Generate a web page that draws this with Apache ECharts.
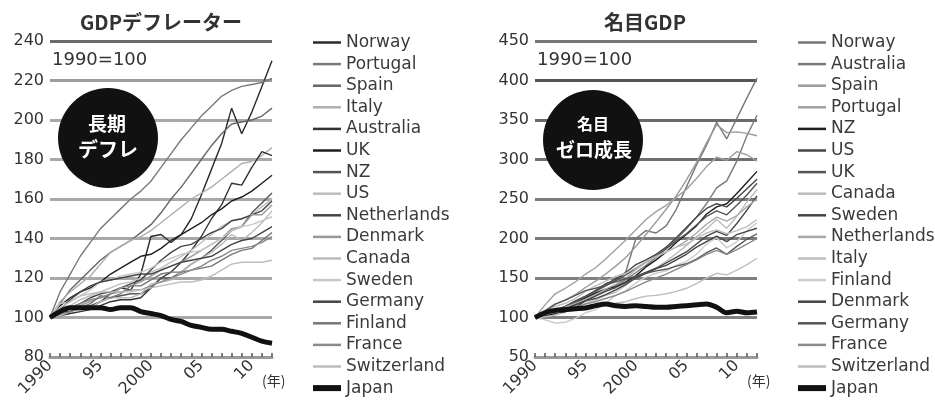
<!DOCTYPE html>
<html>
<head>
<meta charset="utf-8">
<script src="https://cdn.jsdelivr.net/npm/echarts@6/dist/echarts.min.js"></script>
<style>
  html, body { margin: 0; padding: 0; background: #fff; }
  #chart { width: 935px; height: 403px; }
</style>
</head>
<body>
<div id="chart"></div>
<script>
// Years on the x axis (1990 = 100 for every series)
const years = ['1990','1991','1992','1993','1994','1995','1996','1997','1998','1999','2000',
  '2001','2002','2003','2004','2005','2006','2007','2008','2009','2010','2011','2012'];
// Short tick labels shown every five years
const yearTickLabels = { '1990': '1990', '1995': '95', '2000': '2000', '2005': '05', '2010': '10' };

// ---- GDP deflator (left panel) ----
const deflatorCountries = ['Norway','Portugal','Spain','Italy','Australia','UK','NZ','US',
  'Netherlands','Denmark','Canada','Sweden','Germany','Finland','France','Switzerland','Japan'];
const deflatorColors = ['#2a2a2a','#7a7a7a','#666666','#b0b0b0','#333333','#1e1e1e','#555555','#bdbdbd',
  '#444444','#999999','#bbbbbb','#c8c8c8','#444444','#777777','#8a8a8a','#bdbdbd','#111111'];
const deflNorway      = [100,103,103,105,105,108,112,115,114,122,141,142,138,142,150,162,175,188,206,193,204,217,230];
const deflPortugal    = [100,113,122,131,138,145,150,155,160,164,169,176,183,190,196,202,207,212,215,217,218,219,221];
const deflSpain       = [100,107,114,119,124,129,133,136,139,143,147,153,160,166,173,180,187,193,198,199,200,202,206];
const deflItaly       = [100,108,113,117,121,127,133,136,139,141,144,148,152,156,160,163,166,170,174,178,179,182,186];
const deflAustralia   = [100,101,102,103,104,106,108,109,109,110,115,120,123,128,134,141,150,157,168,167,176,184,182];
const deflUK          = [100,106,110,113,115,118,122,125,128,131,132,135,139,142,145,148,152,155,159,161,164,168,172];
const deflNZ          = [100,101,103,105,106,108,110,111,112,112,115,120,120,123,127,130,134,139,144,146,153,158,163];
const deflUS          = [100,104,106,109,111,113,115,117,118,120,123,125,128,131,134,138,142,146,149,150,152,156,160];
const deflNetherlands = [100,103,105,107,110,112,113,115,117,119,124,129,133,136,137,140,143,145,149,150,152,154,159];
const deflDenmark     = [100,103,105,106,108,110,112,115,116,118,121,124,126,128,131,134,137,140,145,146,152,152,157];
const deflCanada      = [100,101,103,104,105,108,110,110,110,112,117,118,119,123,127,130,133,137,142,139,143,148,154];
const deflSweden      = [100,107,108,111,114,118,119,121,122,123,125,128,130,132,133,134,137,140,144,146,147,149,151];
const deflGermany     = [100,104,109,113,116,118,119,120,121,122,122,124,126,128,129,130,131,134,137,139,140,143,146];
const deflFinland     = [100,102,103,105,107,111,110,112,116,116,119,122,123,123,124,125,126,129,132,134,135,139,143];
const deflFrance      = [100,103,105,107,109,110,112,113,114,114,116,118,120,122,124,126,129,131,134,135,136,138,141];
const deflSwitzerland = [100,105,108,111,112,113,113,113,113,114,115,116,117,118,118,119,121,124,127,128,128,128,129];
const deflJapan       = [100,103,105,105,105,105,104,105,105,103,102,101,99,98,96,95,94,94,93,92,90,88,87];
const deflatorValues = [deflNorway, deflPortugal, deflSpain, deflItaly, deflAustralia, deflUK, deflNZ, deflUS,
  deflNetherlands, deflDenmark, deflCanada, deflSweden, deflGermany, deflFinland, deflFrance, deflSwitzerland, deflJapan];

// ---- Nominal GDP (right panel) ----
const nominalCountries = ['Norway','Australia','Spain','Portugal','NZ','US','UK','Canada','Sweden',
  'Netherlands','Italy','Finland','Denmark','Germany','France','Switzerland','Japan'];
const nominalColors = ['#777777','#7a7a7a','#9a9a9a','#a0a0a0','#1e1e1e','#444444','#555555','#bbbbbb','#444444',
  '#aaaaaa','#bdbdbd','#cccccc','#444444','#555555','#8a8a8a','#bdbdbd','#111111'];
const nomNorway      = [100,105,108,113,119,125,134,143,146,158,200,210,207,216,237,265,293,318,347,326,352,378,403];
const nomAustralia   = [100,102,105,110,116,122,128,135,141,148,157,166,176,187,199,212,227,244,264,273,298,330,356];
const nomSpain       = [100,109,117,122,129,138,146,155,165,176,190,205,221,237,254,274,296,321,344,334,335,333,330];
const nomPortugal    = [100,116,130,137,145,155,163,174,186,198,211,224,234,242,252,262,276,291,303,299,310,306,298];
const nomNZ          = [100,102,105,111,118,125,131,136,139,145,153,164,173,183,195,205,216,231,240,244,257,271,285];
const nomUS          = [100,104,109,114,121,127,134,142,149,157,167,173,180,189,201,214,227,238,244,240,251,263,275];
const nomUK          = [100,105,109,114,120,126,133,140,147,154,162,170,178,187,197,206,217,228,235,230,242,255,270];
const nomCanada      = [100,101,103,107,113,118,122,128,132,141,152,157,163,171,181,191,202,212,224,213,228,246,262];
const nomSweden      = [100,106,106,107,113,121,124,129,135,142,150,156,162,169,176,183,193,203,209,204,219,236,254];
const nomNetherlands = [100,105,109,113,118,123,129,136,142,150,161,170,177,183,189,197,207,218,227,222,229,240,250];
const nomItaly       = [100,108,114,118,124,133,140,146,152,156,163,171,177,183,189,193,200,207,211,206,210,215,224];
const nomFinland     = [100,97,93,94,99,106,110,118,128,134,144,151,156,159,166,171,180,193,201,188,196,210,220];
const nomDenmark     = [100,104,107,109,116,121,127,133,138,144,152,157,162,166,173,180,189,196,203,196,205,209,213];
const nomGermany     = [100,108,117,122,128,134,137,141,145,149,152,156,159,161,165,168,174,182,188,180,190,199,206];
const nomFrance      = [100,104,107,109,113,117,120,124,128,133,139,145,150,155,161,167,173,180,185,180,186,193,200];
const nomSwitzerland = [100,104,107,109,112,113,114,115,118,120,124,127,128,130,133,137,143,150,156,154,160,167,175];
const nomJapan       = [100,106,109,110,111,112,115,117,115,114,115,114,113,113,114,115,116,117,113,106,108,106,107];
const nominalValues = [nomNorway, nomAustralia, nomSpain, nomPortugal, nomNZ, nomUS, nomUK, nomCanada, nomSweden,
  nomNetherlands, nomItaly, nomFinland, nomDenmark, nomGermany, nomFrance, nomSwitzerland, nomJapan];

const LATIN = '"DejaVu Sans", "Noto Sans CJK JP", sans-serif';
const CJK = '"Noto Sans CJK JP", "DejaVu Sans", sans-serif';

// Series keys carry a panel prefix so each legend picks up its own line style
function buildSeries(prefix, countries, values, colors, axisIndex) {
  return countries.map((c, i) => {
    const isJapan = c === 'Japan';
    return {
      name: prefix + '|' + c,
      type: 'line',
      xAxisIndex: axisIndex,
      yAxisIndex: axisIndex,
      data: values[i],
      symbol: 'none',
      smooth: isJapan ? 0.3 : false,
      z: isJapan ? 5 : 3,
      silent: true,
      lineStyle: { color: colors[i], width: isJapan ? 5 : 1.4 },
      itemStyle: { color: colors[i] }
    };
  });
}

// Legend entries: a plain line swatch, thicker for Japan
function buildLegend(prefix, countries, left) {
  return {
    orient: 'vertical',
    left: left,
    top: 29,
    itemWidth: 28,
    itemHeight: 14,
    itemGap: 4.6,
    selectedMode: false,
    formatter: n => n.split('|')[1],
    textStyle: { fontFamily: LATIN, fontSize: 17, color: '#3a3a3a', lineHeight: 17 },
    data: countries.map(c => ({
      name: prefix + '|' + c,
      itemStyle: { color: 'rgba(0,0,0,0)', borderWidth: 0, opacity: 0 },
      lineStyle: { width: c === 'Japan' ? 6 : 2.5 }
    }))
  };
}

function xAxisFor(gridIndex) {
  return {
    type: 'category',
    gridIndex: gridIndex,
    data: years,
    boundaryGap: false,
    axisLine: { show: true, lineStyle: { color: '#9a9a9a', width: 3 } },
    axisTick: { show: true, inside: true, interval: 0, length: 4, lineStyle: { color: '#555', width: 1.5 } },
    axisLabel: {
      interval: 0,
      rotate: 45,
      margin: 6,
      fontFamily: LATIN,
      fontSize: 16,
      color: '#333',
      formatter: v => yearTickLabels[v] || ''
    },
    splitLine: { show: false }
  };
}

function yAxisFor(gridIndex, min, max, interval, colors) {
  return {
    type: 'value',
    gridIndex: gridIndex,
    min: min, max: max, interval: interval,
    axisLine: { show: false },
    axisTick: { show: false },
    axisLabel: { margin: 6, fontFamily: LATIN, fontSize: 16, color: '#333' },
    splitLine: { show: true, lineStyle: { color: colors, width: 3 } }
  };
}

const chart = echarts.init(document.getElementById('chart'), null, { renderer: 'canvas' });

chart.setOption({
  backgroundColor: '#ffffff',
  animation: false,
  grid: [
    { left: 50, top: 41, width: 222, height: 316 },
    { left: 535, top: 41, width: 222, height: 316 }
  ],
  xAxis: [xAxisFor(0), xAxisFor(1)],
  yAxis: [
    yAxisFor(0, 80, 240, 20, ['#9a9a9a','#a8a8a8','#a8a8a8','#a8a8a8','#a8a8a8','#a8a8a8','#a8a8a8','#9c9c9c','#6a6a6a']),
    yAxisFor(1, 50, 450, 50, ['#9a9a9a','#808080','#808080','#7a7a7a','#7a7a7a','#707070','#6a6a6a','#555555','#777777'])
  ],
  legend: [
    buildLegend('defl', deflatorCountries, 305),
    buildLegend('nom', nominalCountries, 790)
  ],
  series: [
    ...buildSeries('defl', deflatorCountries, deflatorValues, deflatorColors, 0),
    ...buildSeries('nom', nominalCountries, nominalValues, nominalColors, 1)
  ],
  graphic: [
    { type: 'text', z: 50, style: { x: 161, y: 22, text: 'GDPデフレーター', font: 'bold 20px ' + CJK, fill: '#333', textAlign: 'center', textVerticalAlign: 'middle' } },
    { type: 'text', z: 50, style: { x: 645, y: 22, text: '名目GDP', font: 'bold 20px ' + CJK, fill: '#333', textAlign: 'center', textVerticalAlign: 'middle' } },
    { type: 'text', z: 50, style: { x: 52, y: 60, text: '1990=100', font: '18px ' + LATIN, fill: '#333', textAlign: 'left', textVerticalAlign: 'middle' } },
    { type: 'text', z: 50, style: { x: 537, y: 60, text: '1990=100', font: '18px ' + LATIN, fill: '#333', textAlign: 'left', textVerticalAlign: 'middle' } },
    { type: 'circle', z: 60, shape: { cx: 108, cy: 138, r: 50 }, style: { fill: '#111' } },
    { type: 'text', z: 61, style: { x: 107, y: 124, text: '長期', font: 'bold 19px ' + CJK, fill: '#fff', textAlign: 'center', textVerticalAlign: 'middle' } },
    { type: 'text', z: 61, style: { x: 108, y: 149, text: 'デフレ', font: 'bold 20px ' + CJK, fill: '#fff', textAlign: 'center', textVerticalAlign: 'middle' } },
    { type: 'circle', z: 60, shape: { cx: 593, cy: 140, r: 50 }, style: { fill: '#111' } },
    { type: 'text', z: 61, style: { x: 593, y: 124, text: '名目', font: 'bold 16px ' + CJK, fill: '#fff', textAlign: 'center', textVerticalAlign: 'middle' } },
    { type: 'text', z: 61, style: { x: 594, y: 150, text: 'ゼロ成長', font: 'bold 19px ' + CJK, fill: '#fff', textAlign: 'center', textVerticalAlign: 'middle' } },
    { type: 'text', z: 50, style: { x: 262, y: 381, text: '(年)', font: '14px ' + CJK, fill: '#333', textAlign: 'left', textVerticalAlign: 'middle' } },
    { type: 'text', z: 50, style: { x: 747, y: 381, text: '(年)', font: '14px ' + CJK, fill: '#333', textAlign: 'left', textVerticalAlign: 'middle' } }
  ]
});
</script>
</body>
</html>
